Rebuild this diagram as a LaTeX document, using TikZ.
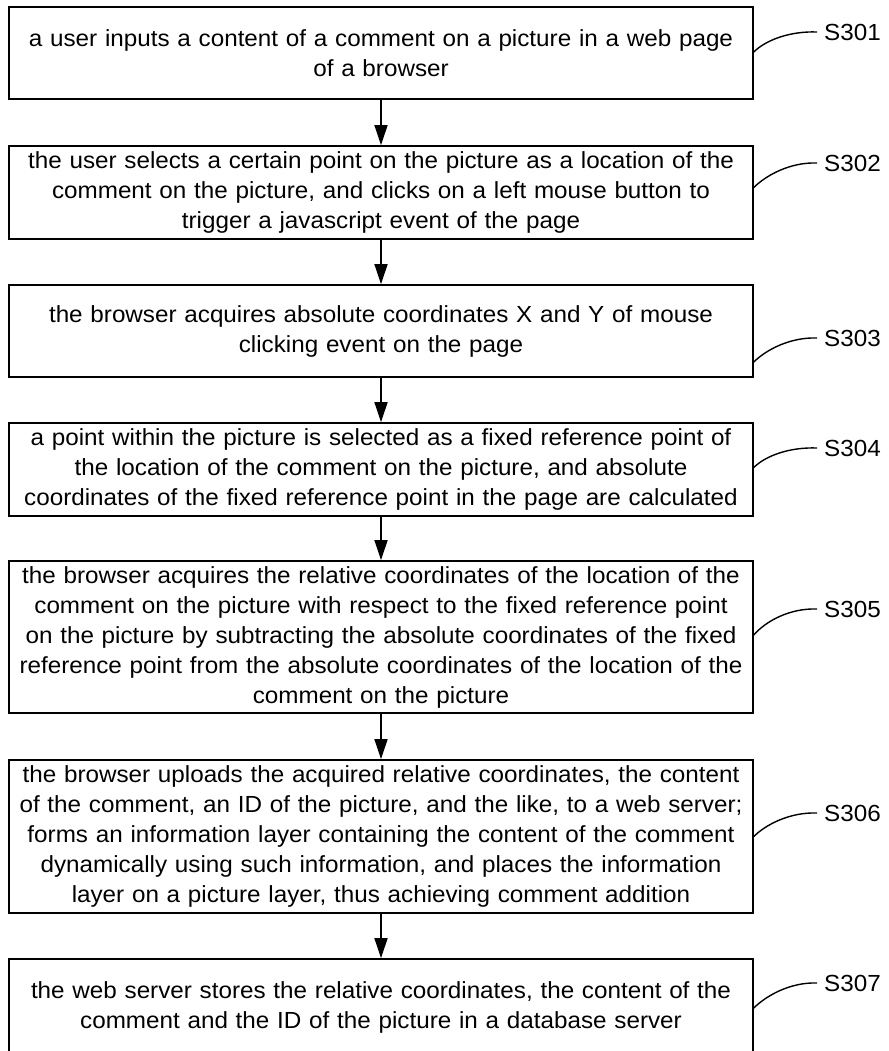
\documentclass[tikz,border=0pt]{standalone}
\usepackage{fontspec}
\setmainfont{Liberation Sans}
\newfontfamily\boxfont[FakeStretch=1.04]{Liberation Sans}
\usetikzlibrary{arrows.meta,calc}
\begin{document}
\begin{tikzpicture}[x=1pt,y=-1pt,
  stepbox/.style={draw=black,line width=1.6pt,minimum width=744pt,text width=736pt,
    inner xsep=4pt,inner ysep=0pt,align=center,
    font=\boxfont\fontsize{23.3}{30}\selectfont},
  flow/.style={line width=1.4pt,-{Triangle[length=20pt,width=13pt]}},
  leader/.style={line width=1.4pt},
  steplabel/.style={anchor=west,inner xsep=7pt,inner ysep=0pt,font=\boxfont\fontsize{23.3}{27}\selectfont}]
\useasboundingbox (0,0) rectangle (888,1051);
\fill[white] (0,0) rectangle (888,1051);
\begin{scope}
\clip (0,0) rectangle (888,1051);
\node[stepbox,minimum height=92pt] (b1) at (381,53) {a user inputs a content of a comment on a picture in a web page\\ of a browser};
\node[stepbox,minimum height=93pt] (b2) at (381,192.5) {the user selects a certain point on the picture as a location of the\\ comment on the picture, and clicks on a left mouse button to\\ trigger a javascript event of the page};
\node[stepbox,minimum height=92pt] (b3) at (381,331) {the browser acquires absolute coordinates X and Y of mouse\\ clicking event on the page};
\node[stepbox,minimum height=93pt] (b4) at (381,469.5) {a point within the picture is selected as a fixed reference point of\\ the location of the comment on the picture, and absolute\\ coordinates of the fixed reference point in the page are calculated};
\node[stepbox,minimum height=152pt] (b5) at (381,637) {the browser acquires the relative coordinates of the location of the\\ comment on the picture with respect to the fixed reference point\\ on the picture by subtracting the absolute coordinates of the fixed\\ reference point from the absolute coordinates of the location of the\\ comment on the picture};
\node[stepbox,minimum height=153pt] (b6) at (381,836.5) {the browser uploads the acquired relative coordinates, the content\\ of the comment, an ID of the picture, and the like, to a web server;\\ forms an information layer containing the content of the comment\\ dynamically using such information, and places the information\\ layer on a picture layer, thus achieving comment addition};
\node[stepbox,minimum height=96pt] (b7) at (381,1007) {the web server stores the relative coordinates, the content of the\\ comment and the ID of the picture in a database server};

\node[steplabel] (l1) at (817,32) {S301};
\node[steplabel] (l2) at (817,163) {S302};
\node[steplabel] (l3) at (817,338) {S303};
\node[steplabel] (l4) at (817,448) {S304};
\node[steplabel] (l5) at (817,609) {S305};
\node[steplabel] (l6) at (817,813) {S306};
\node[steplabel] (l7) at (817,983) {S307};

\draw[flow] (b1) -- (b2);
\draw[flow] (b2) -- (b3);
\draw[flow] (b3) -- (b4);
\draw[flow] (b4) -- (b5);
\draw[flow] (b5) -- (b6);
\draw[flow] (b6) -- (b7);

\draw[leader] ($(b1.east)+(0,-1)$) .. controls +(12,-12) and +(-27,-1) .. (l1.west);
\draw[leader] ($(b2.east)+(0,-5)$) .. controls +(12,-12) and +(-27,-1) .. (l2.west);
\draw[leader] ($(b3.east)+(0,31)$) .. controls +(12,-12) and +(-27,-1) .. (l3.west);
\draw[leader] ($(b4.east)+(0,-2)$) .. controls +(12,-12) and +(-27,-1) .. (l4.west);
\draw[leader] ($(b5.east)+(0,-2)$) .. controls +(12,-14) and +(-27,-1) .. (l5.west);
\draw[leader] ($(b6.east)+(0,0)$) .. controls +(12,-12) and +(-27,-1) .. (l6.west);
\draw[leader] ($(b7.east)+(0,1)$) .. controls +(12,-12) and +(-27,-1) .. (l7.west);
\end{scope}
\end{tikzpicture}
\end{document}
